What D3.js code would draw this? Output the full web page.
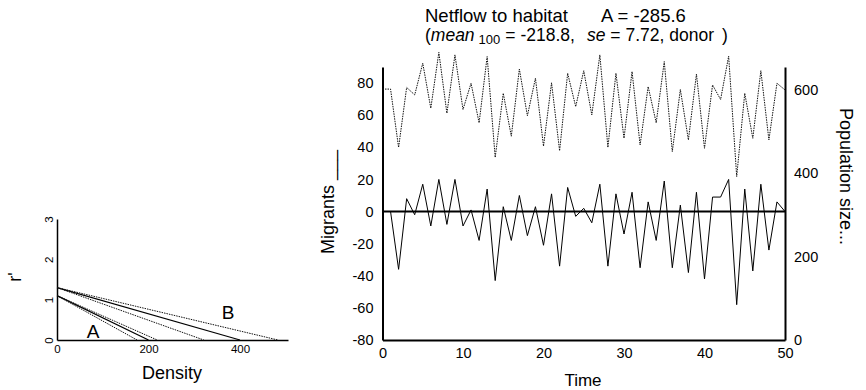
<!DOCTYPE html>
<html lang="en">
<head>
<meta charset="utf-8">
<title>Netflow to habitat</title>
<script src="https://cdnjs.cloudflare.com/ajax/libs/d3/7.8.5/d3.min.js"></script>
<style>
  body { margin: 0; background: #fff; }
  svg { display: block; font-family: "Liberation Sans", Arial, sans-serif; }
  text { white-space: pre; }
</style>
</head>
<body>
<svg id="chart" width="866" height="390"></svg>
<script>
// ---- data ----
// main panel: migrants (t = 1..50) and population size (t = 0..50)
var migrantTimes = d3.range(1, 51);
var migrants = [0, -36, 8, -2, 17, -9, 20, -8, 20, -9,
                1, -18, 14, -43, 3, -18, 10, -15, 3, -21,
                11, -34, 15, -3, 2, -7, 17, -34, 11, -14,
                12, -35, 6, -18, 19, -35, 4, -38, 12, -42,
                9, 9, 20, -58, 14, -37, 17, -24, 6, 0];
var popTimes = d3.range(0, 51);
var population = [602, 602, 462, 606, 588, 664, 556, 690, 544, 684,
                  553, 616, 521, 680, 438, 592, 489, 650, 538, 628,
                  465, 617, 454, 640, 560, 646, 540, 684, 462, 640,
                  484, 644, 468, 608, 521, 668, 452, 601, 480, 638,
                  460, 612, 577, 681, 392, 592, 484, 646, 480, 616, 600];
var timeTicks = [0, 10, 20, 30, 40, 50];
var migrantTicks = [-80, -60, -40, -20, 0, 20, 40, 60, 80];
var popTicks = [0, 200, 400, 600];

// small panel: r' = r0 * (1 - N / K)
var solidLines = [{ r0: 1.1, K: 200 }, { r0: 1.3, K: 400 }];
var dottedLines = [{ r0: 1.1, K: 175 }, { r0: 1.1, K: 219 },
                   { r0: 1.3, K: 321 }, { r0: 1.3, K: 483 }];
var curveLabels = [{ name: "A", N: 79, r: 0.06 }, { name: "B", N: 374, r: 0.52 }];
var densityTicks = [0, 200, 400];
var rTicks = [0, 1, 2, 3];

var svg = d3.select("#chart");
var plain = function(d) { return String(d); };   // keep ascii hyphen for negatives

// ---------------- main panel ----------------
var x = d3.scaleLinear().domain([0, 50]).range([382.5, 785]);
var yM = d3.scaleLinear().domain([-80, 90]).range([340, 67]);
var yP = d3.scaleLinear().domain([0, 655]).range([340, 67]);

var main = svg.append("g");

function styleAxis(g, size) {
  g.select(".domain").attr("stroke", "#000").attr("stroke-width", 2);
  g.selectAll("text").attr("font-size", size).attr("fill", "#000")
    .attr("font-family", "Liberation Sans, Arial, sans-serif");
}

main.append("g")
  .attr("transform", "translate(0,340)")
  .call(d3.axisBottom(x).tickValues(timeTicks).tickFormat(plain).tickSize(0).tickPadding(8))
  .call(styleAxis, 14.5);

main.append("g")
  .attr("transform", "translate(382.5,0)")
  .call(d3.axisLeft(yM).tickValues(migrantTicks).tickFormat(plain).tickSize(0).tickPadding(9))
  .call(styleAxis, 14.5);

main.append("g")
  .attr("transform", "translate(785,0)")
  .call(d3.axisRight(yP).tickValues(popTicks).tickFormat(plain).tickSize(0).tickPadding(9))
  .call(styleAxis, 14.5);

// zero line
main.append("line")
  .attr("x1", x(0)).attr("x2", x(50))
  .attr("y1", yM(0)).attr("y2", yM(0))
  .attr("stroke", "#000").attr("stroke-width", 2);

var popLine = d3.line()
  .x(function(d, i) { return x(popTimes[i]); })
  .y(function(d) { return yP(d); });

main.append("path")
  .datum(population)
  .attr("d", popLine)
  .attr("fill", "none")
  .attr("stroke", "#111")
  .attr("stroke-width", 1)
  .attr("stroke-dasharray", "1.5,1");

var migLine = d3.line()
  .x(function(d, i) { return x(migrantTimes[i]); })
  .y(function(d) { return yM(d); });

main.append("path")
  .datum(migrants)
  .attr("d", migLine)
  .attr("fill", "none")
  .attr("stroke", "#000")
  .attr("stroke-width", 1);

// axis titles
main.append("text")
  .attr("x", 583).attr("y", 386)
  .attr("text-anchor", "middle")
  .attr("font-size", 17)
  .text("Time");

main.append("text")
  .attr("transform", "translate(334,202) rotate(-90)")
  .attr("text-anchor", "middle")
  .attr("font-size", 18)
  .text("Migrants ___");

main.append("text")
  .attr("transform", "translate(840,176.5) rotate(90)")
  .attr("text-anchor", "middle")
  .attr("font-size", 18)
  .text("Population size...");

// title
var t1 = main.append("text").attr("y", 22).attr("font-size", 18.5);
t1.append("tspan").attr("x", 425).text("Netflow to habitat");
t1.append("tspan").attr("x", 601).text("A = -285.6");

var t2 = main.append("text").attr("y", 41).attr("font-size", 17.5);
t2.append("tspan").attr("x", 425).text("(");
t2.append("tspan").attr("font-style", "italic").text("mean");
t2.append("tspan").attr("font-size", 13).attr("dx", 4).attr("dy", 3).text("100");
t2.append("tspan").attr("dx", 5).attr("dy", -3).text("= -218.8,");
t2.append("tspan").attr("x", 587).attr("font-style", "italic").text("se");
t2.append("tspan").text(" = 7.72, donor");
t2.append("tspan").attr("dx", 8).text(")");

// ---------------- small panel ----------------
var xd = d3.scaleLinear().domain([0, 505]).range([57, 288]);
var yr = d3.scaleLinear().domain([0, 3]).range([340, 219]);

var small = svg.append("g");

var gx = small.append("g")
  .attr("transform", "translate(0,340)")
  .call(d3.axisBottom(xd).tickValues(densityTicks).tickFormat(plain).tickSize(0).tickPadding(5));
gx.call(styleAxis, 11.5);
gx.select(".domain").attr("stroke-width", 1.5);

var gy = small.append("g")
  .attr("transform", "translate(57,0)")
  .call(d3.axisLeft(yr).tickValues(rTicks).tickFormat(plain).tickSize(0));
gy.call(styleAxis, 11.5);
gy.select(".domain").attr("stroke-width", 1.5);
gy.selectAll(".tick text")
  .attr("x", 0).attr("y", -4).attr("dy", null)
  .attr("text-anchor", "middle")
  .attr("transform", "rotate(-90)");

function rLine(d) {
  return "M" + xd(0) + "," + yr(d.r0) + "L" + xd(d.K) + "," + yr(0);
}

small.selectAll("path.solid")
  .data(solidLines).enter().append("path")
  .attr("class", "solid")
  .attr("d", rLine)
  .attr("fill", "none").attr("stroke", "#000").attr("stroke-width", 1.2);

small.selectAll("path.dotted")
  .data(dottedLines).enter().append("path")
  .attr("class", "dotted")
  .attr("d", rLine)
  .attr("fill", "none").attr("stroke", "#111").attr("stroke-width", 1)
  .attr("stroke-dasharray", "1.5,1");

small.selectAll("text.curve")
  .data(curveLabels).enter().append("text")
  .attr("class", "curve")
  .attr("x", function(d) { return xd(d.N); })
  .attr("y", function(d) { return yr(d.r); })
  .attr("text-anchor", "middle")
  .attr("font-size", 19)
  .text(function(d) { return d.name; });

small.append("text")
  .attr("x", 172).attr("y", 379)
  .attr("text-anchor", "middle")
  .attr("font-size", 18)
  .text("Density");

small.append("text")
  .attr("transform", "translate(21,277) rotate(-90)")
  .attr("text-anchor", "middle")
  .attr("font-size", 18)
  .text("r'");
</script>
</body>
</html>
